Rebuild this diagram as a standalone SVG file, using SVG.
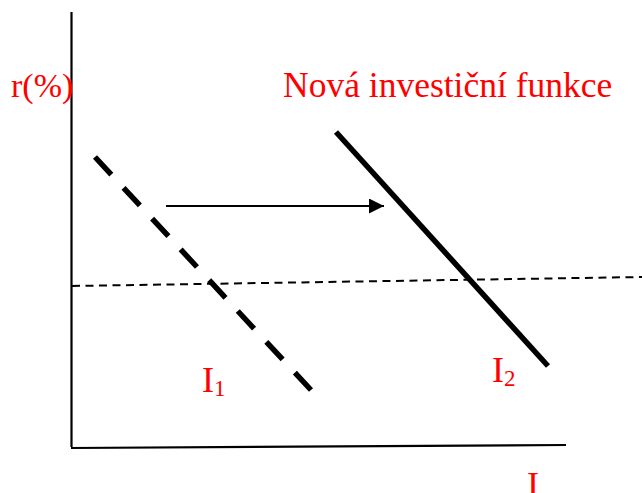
<svg xmlns="http://www.w3.org/2000/svg" width="642" height="493" viewBox="0 0 642 493">
<style>
.lbl{font-family:"Liberation Serif","Times New Roman",serif;fill:#ff0000}
.ax{stroke:#000;stroke-width:2.2;fill:none}
</style>
<defs>
<marker id="ah" viewBox="0 0 10 10" refX="10" refY="5" markerWidth="16" markerHeight="15" markerUnits="userSpaceOnUse" orient="auto">
<path d="M0,0 L10,5 L0,10 Z" fill="#000"/>
</marker>
</defs>
<rect width="642" height="493" fill="#fff"/>
<g id="axes">
<line class="ax" x1="71.5" y1="12" x2="71.5" y2="447"/>
<line class="ax" x1="71" y1="448" x2="566" y2="445"/>
</g>
<g id="connectors">
<line x1="72" y1="286" x2="642" y2="277" stroke="#000" stroke-width="2" stroke-dasharray="8,5.5"/>
<line x1="166" y1="206" x2="384" y2="206" stroke="#000" stroke-width="1.8" marker-end="url(#ah)"/>
</g>
<g id="I1-curve">
<line x1="95" y1="157" x2="311" y2="390" stroke="#000" stroke-width="5.5" stroke-dasharray="24,18"/>
</g>
<g id="I2-curve">
<line x1="336" y1="132" x2="548" y2="366" stroke="#000" stroke-width="5.5"/>
</g>
<g id="labels">
<text class="lbl" x="11" y="97" font-size="34">r(%)</text>
<text class="lbl" x="283" y="97" font-size="35.5">Nová investiční funkce</text>
<text class="lbl" x="202" y="392" font-size="36">I<tspan font-size="23" dy="4">1</tspan></text>
<text class="lbl" x="492" y="382" font-size="36">I<tspan font-size="23" dy="4">2</tspan></text>
<text class="lbl" x="527" y="497" font-size="36">I</text>
</g>
</svg>
